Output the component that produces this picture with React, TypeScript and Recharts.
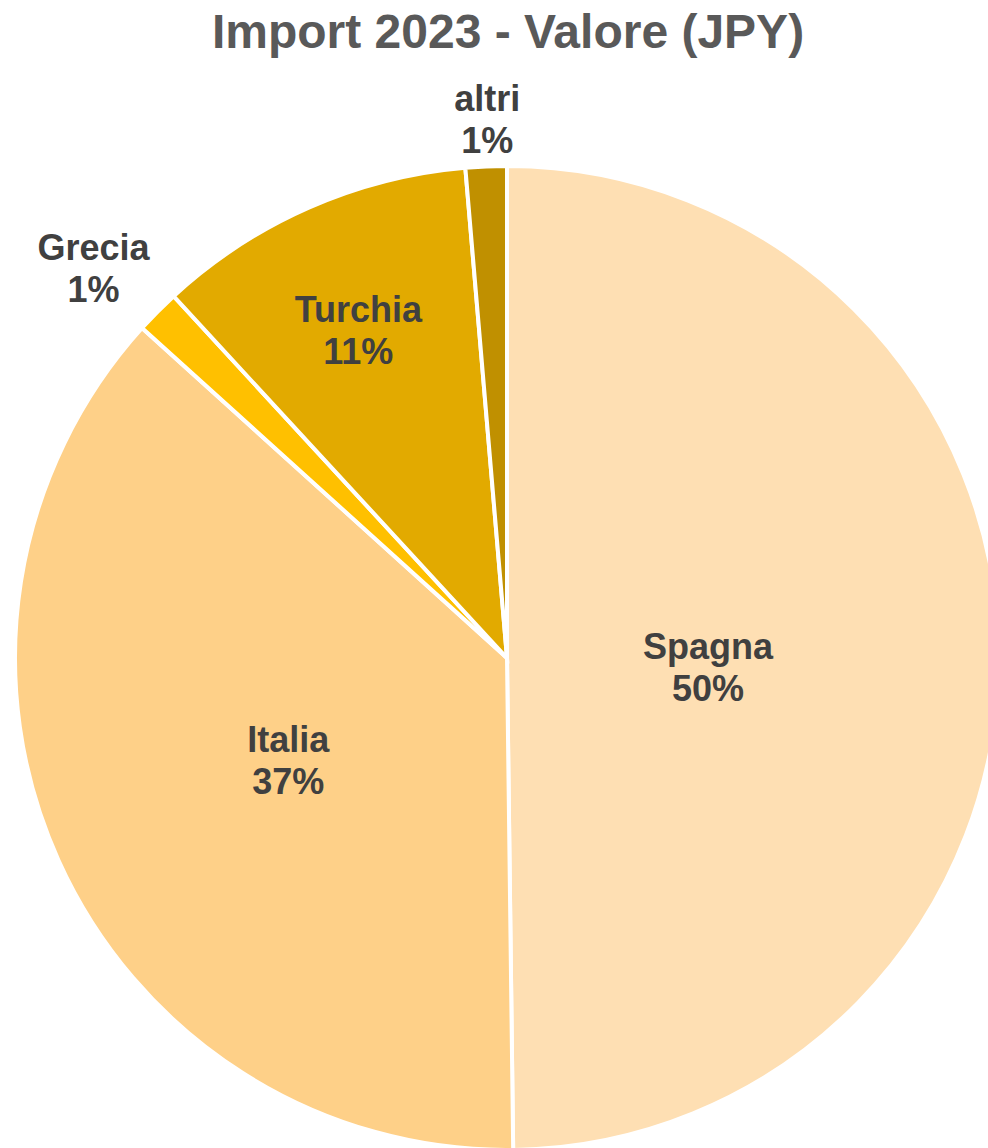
import { PieChart, Pie, Cell } from "recharts";

const countries = ["Spagna", "Italia", "Grecia", "Turchia", "altri"];
const shares = [49.8, 36.9, 1.45, 10.5, 1.35];
const colors = ["#FEDFB3", "#FED088", "#FFC000", "#E2AA00", "#C09000"];

// label distance from center in px (thin slices get their label outside), plus small nudges
const labelRadius = [201, 241, 568, 359, 539];
const labelNudgeX = [0, 1, -10, -4, 3];
const labelNudgeY = [10, 3, 10, 1, 0];

const RAD = Math.PI / 180;

const data = countries.map((name, i) => ({ name, value: shares[i] }));

function renderLabel(props: any) {
  const { cx, cy, midAngle, index, percent, name } = props;
  const r = labelRadius[index];
  const x = cx + r * Math.cos(-midAngle * RAD) + labelNudgeX[index];
  const y = cy + r * Math.sin(-midAngle * RAD) + labelNudgeY[index];
  return (
    <text
      x={x}
      y={y}
      textAnchor="middle"
      fill="#404040"
      fontSize={36}
      fontWeight="bold"
      fontFamily="'Liberation Sans', Arial, sans-serif"
    >
      <tspan x={x} y={y - 8}>{name}</tspan>
      <tspan x={x} y={y + 34}>{`${Math.round(percent * 100)}%`}</tspan>
    </text>
  );
}

export default function App() {
  return (
    <div style={{ position: "absolute", left: 0, top: 0, width: 988, height: 1148, background: "#fff" }}>
      <div
        style={{
          position: "absolute",
          left: 0,
          top: 8,
          width: 1016,
          textAlign: "center",
          fontFamily: "'Liberation Sans', Arial, sans-serif",
          fontWeight: "bold",
          fontSize: 48,
          lineHeight: "48px",
          color: "#595959",
          zIndex: 1,
        }}
      >
        Import 2023 - Valore (JPY)
      </div>
      <PieChart width={988} height={1148} margin={{ top: 0, right: 0, bottom: 0, left: 0 }}>
        <Pie
          data={data}
          dataKey="value"
          nameKey="name"
          cx={507}
          cy={658}
          outerRadius={492}
          startAngle={90}
          endAngle={-270}
          stroke="#fff"
          strokeWidth={4}
          label={renderLabel}
          labelLine={false}
          isAnimationActive={false}
        >
          {data.map((d, i) => (
            <Cell key={d.name} fill={colors[i]} />
          ))}
        </Pie>
      </PieChart>
    </div>
  );
}
